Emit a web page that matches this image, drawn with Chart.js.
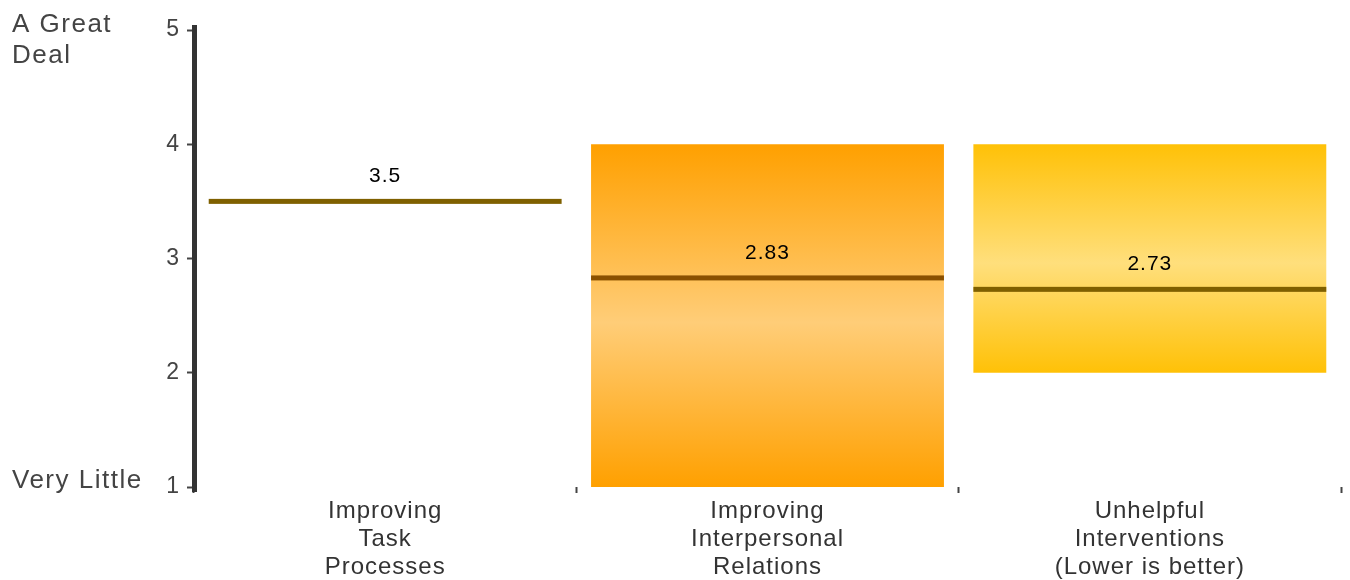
<!DOCTYPE html>
<html>
<head>
<meta charset="utf-8">
<script src="https://cdn.jsdelivr.net/npm/chart.js@4/dist/chart.umd.min.js"></script>
<style>
  html, body { margin: 0; padding: 0; background: #fff; }
  #wrap { width: 1350px; height: 580px; position: relative; }
</style>
</head>
<body>
<div id="wrap"><canvas id="c" width="1350" height="580"></canvas></div>
<script>
// Rating categories (multi-line labels)
const categories = [
  ["Improving", "Task", "Processes"],
  ["Improving", "Interpersonal", "Relations"],
  ["Unhelpful", "Interventions", "(Lower is better)"]
];
// Range bands shown behind each mean (low, high); null = no band
const bandLow = [null, 1, 2];
const bandHigh = [null, 4, 4];
// Mean rating per category
const means = [3.5, 2.83, 2.73];
// Scale ends and tick values
const yTicks = [1, 2, 3, 4, 5];
const scaleEndLabels = { top: ["A Great", "Deal"], bottom: ["Very Little"] };

const FONT = "'Liberation Sans', Arial, sans-serif";
const bandStops = [
  null,
  ["#FFA000", "#FFCD78", "#FFA000"],
  ["#FFC107", "#FFDF7C", "#FFC107"]
];
const meanColors = ["#7F6000", "#8A5000", "#7F6000"];

function bandFill(context) {
  const chart = context.chart;
  const i = context.dataIndex;
  const stops = bandStops[i];
  if (!stops || !chart.chartArea) return "#FFA000";
  const y = chart.scales.y;
  const top = y.getPixelForValue(bandHigh[i]);
  const bot = y.getPixelForValue(bandLow[i]);
  const g = chart.ctx.createLinearGradient(0, top, 0, bot);
  g.addColorStop(0, stops[0]);
  g.addColorStop(0.52, stops[1]);
  g.addColorStop(1, stops[2]);
  return g;
}

// Slightly open text tracking for all chart text
const tracking = {
  id: "tracking",
  beforeDraw(chart) { chart.ctx.letterSpacing = "1px"; }
};

// Mean lines, value labels, axis extension and scale-end captions
const meanLines = {
  id: "meanLines",
  afterDatasetsDraw(chart) {
    const { ctx, scales: { x, y } } = chart;
    const meta = chart.getDatasetMeta(0);
    ctx.save();
    means.forEach((m, i) => {
      const cx = x.getPixelForValue(i);
      const half = meta.data[i] && meta.data[i].width ? meta.data[i].width / 2 : 176;
      const py = y.getPixelForValue(m);
      ctx.fillStyle = meanColors[i];
      ctx.fillRect(cx - half, py - 2.5, half * 2, 5);
      ctx.fillStyle = "#000";
      ctx.font = "21px " + FONT;
      ctx.textAlign = "center";
      ctx.textBaseline = "middle";
      ctx.fillText(String(m), cx, py - 25);
    });
    ctx.restore();
  },
  afterDraw(chart) {
    const { ctx, chartArea, scales: { y } } = chart;
    ctx.save();
    // axis line runs a little past both end ticks
    ctx.fillStyle = "#333";
    ctx.fillRect(chartArea.left - 2, chartArea.top - 5, 5, chartArea.bottom - chartArea.top + 10);
    ctx.fillStyle = "#444";
    ctx.letterSpacing = "1.5px";
    ctx.font = "26px " + FONT;
    ctx.textAlign = "left";
    ctx.textBaseline = "middle";
    const topY = y.getPixelForValue(yTicks[yTicks.length - 1]);
    scaleEndLabels.top.forEach((t, k) => ctx.fillText(t, 12, topY - 5 + k * 31));
    const botY = y.getPixelForValue(yTicks[0]);
    scaleEndLabels.bottom.forEach((t, k) => ctx.fillText(t, 12, botY - 6 + k * 31));
    ctx.restore();
  }
};

new Chart(document.getElementById("c"), {
  type: "bar",
  data: {
    labels: categories,
    datasets: [{
      data: bandLow.map((lo, i) => lo === null ? null : [lo, bandHigh[i]]),
      backgroundColor: bandFill,
      borderWidth: 0,
      barPercentage: 0.923,
      categoryPercentage: 1
    }]
  },
  options: {
    responsive: false,
    animation: false,
    events: [],
    layout: { padding: { top: 30, right: 9, left: 0, bottom: 0 } },
    plugins: { legend: { display: false }, tooltip: { enabled: false } },
    scales: {
      x: {
        offset: true,
        border: { display: false },
        grid: {
          offset: true,
          drawOnChartArea: false,
          drawTicks: true,
          tickLength: 6,
          tickWidth: 2,
          tickColor: "#444"
        },
        ticks: {
          color: "#333",
          font: { family: FONT, size: 24, lineHeight: 1.15 },
          padding: 5,
          maxRotation: 0,
          autoSkip: false
        },
        afterFit(s) { s.height = 93; }
      },
      y: {
        min: 1,
        max: 5,
        afterBuildTicks(s) { s.ticks = yTicks.map(v => ({ value: v })); },
        border: { display: true, color: "#333", width: 4 },
        grid: {
          drawOnChartArea: false,
          tickLength: 7,
          tickWidth: 2,
          tickColor: "#444"
        },
        ticks: {
          color: "#444",
          font: { family: FONT, size: 23 },
          padding: 7
        },
        afterFit(s) { s.width = 194; }
      }
    }
  },
  plugins: [tracking, meanLines]
});
</script>
</body>
</html>
